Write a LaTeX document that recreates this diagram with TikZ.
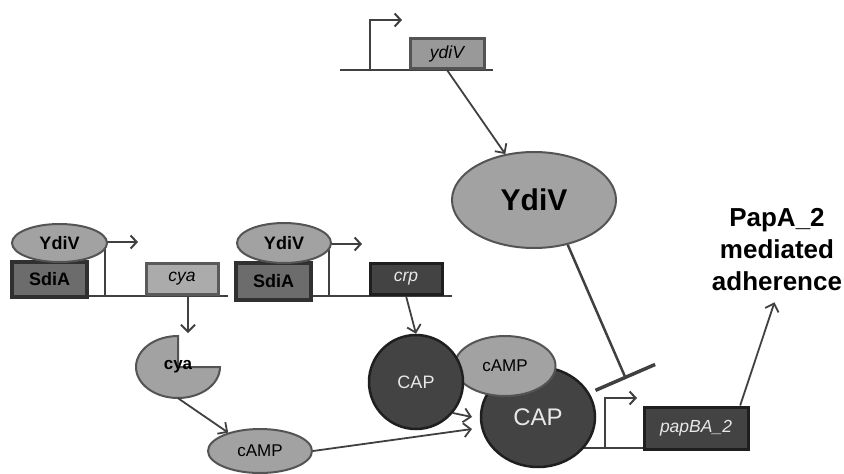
\documentclass[tikz,border=0pt]{standalone}
\usepackage{fontspec}
\setmainfont{Liberation Sans}
\usetikzlibrary{arrows.meta,shapes.geometric}
\definecolor{wire}{HTML}{404040}
\definecolor{protfill}{HTML}{A2A2A2}
\definecolor{protedge}{HTML}{545454}
\definecolor{darkfill}{HTML}{434343}
\definecolor{darkedge}{HTML}{1F1F1F}
\definecolor{sdiafill}{HTML}{6C6C6C}
\definecolor{sdiaedge}{HTML}{303030}
\definecolor{palefill}{HTML}{ABABAB}
\definecolor{paleedge}{HTML}{5A5A5A}
\definecolor{genefill}{HTML}{999999}
\definecolor{lighttext}{HTML}{E8E8E8}
\tikzset{
  prot/.style={ellipse,draw=protedge,fill=protfill,line width=2pt,inner sep=0pt},
  capprot/.style={ellipse,draw=darkedge,fill=darkfill,line width=2.5pt,inner sep=0pt,text=lighttext},
  genebox/.style={rectangle,line width=3pt,inner sep=0pt,font=\fontsize{17.5}{21}\selectfont\itshape},
  sdia/.style={rectangle,draw=sdiaedge,fill=sdiafill,line width=4pt,inner sep=0pt,
    minimum width=75,minimum height=35,font=\fontsize{18}{21}\selectfont\bfseries},
  dna/.style={draw=wire,line width=2.5pt},
  prom/.style={draw=wire,line width=2pt,-{Straight Barb[length=6pt,width=13pt]}},
  act/.style={draw=wire,line width=1.8pt,-{Straight Barb[length=7pt,width=14pt]}},
  inh/.style={draw=wire,line width=2.5pt,-{Bar[width=65pt,line width=3.5pt]}},
}
\begin{document}
\begin{tikzpicture}[x=1pt,y=-1pt]
  \useasboundingbox (0,0) rectangle (844,474);
  \coordinate (ydivL) at (340,70);
  \coordinate (ydivR) at (493,70);
  \coordinate (ydivP) at (370,70);
  \coordinate (ydivT) at (402,20);
  \draw[dna] (ydivL) -- (ydivR);
  \draw[prom] (ydivP) |- (ydivT);
  \node[genebox,draw=protedge,fill=genefill,minimum width=74,minimum height=30,anchor=south]
    (ydivgene) at (447,70) {ydiV};
  \node[prot,minimum width=164,minimum height=96,font=\fontsize{30}{36}\selectfont\bfseries]
    (ydivprot) at (534,200) {YdiV};
  \draw[act] (ydivgene.south) -- (ydivprot.122);

  \coordinate (cyaL) at (40,296);
  \coordinate (cyaR) at (228,296);
  \coordinate (cyaP) at (105,296);
  \coordinate (cyaT) at (138,242);
  \draw[dna] (cyaL) -- (cyaR);
  \draw[prom] (cyaP) |- (cyaT);
  \node[sdia] (sdia1) at (49.5,279.5) {SdiA};
  \node[prot,minimum width=95,minimum height=38,font=\fontsize{18}{21}\selectfont\bfseries]
    (ydiv1) at (59.5,243) {YdiV};
  \node[genebox,draw=paleedge,fill=palefill,minimum width=72,minimum height=31,anchor=south]
    (cyagene) at (182,296) {cya};
  \filldraw[draw=protedge,fill=protfill,line width=2pt]
    (178,367) -- (178,336) arc[start angle=-90,end angle=-360,x radius=42,y radius=31] -- cycle;
  \node[ellipse,minimum width=84,minimum height=62,inner sep=0pt,font=\fontsize{17}{20}\selectfont\bfseries]
    (cyaprot) at (178,367) {cya};
  \coordinate (cyaout) at (188,296);
  \coordinate (cyain) at (188,333);
  \draw[act] (cyaout) -- (cyain);
  \node[prot,minimum width=104,minimum height=44,font=\fontsize{17}{20}\selectfont]
    (camp1) at (260,451) {cAMP};
  \draw[act] (cyaprot.south) -- (camp1.150);

  \coordinate (crpL) at (236,296);
  \coordinate (crpR) at (452,296);
  \coordinate (crpP) at (329,296);
  \coordinate (crpT) at (362,244);
  \draw[dna] (crpL) -- (crpR);
  \draw[prom] (crpP) |- (crpT);
  \node[sdia,minimum height=37] (sdia2) at (273.5,281.5) {SdiA};
  \node[prot,minimum width=94,minimum height=40,font=\fontsize{18}{21}\selectfont\bfseries]
    (ydiv2) at (284,243) {YdiV};
  \node[genebox,draw=darkedge,fill=darkfill,text=lighttext,minimum width=72,minimum height=31,anchor=south]
    (crpgene) at (406,296) {crp};

  \coordinate (papL) at (560,448);
  \coordinate (papR) at (700,448);
  \coordinate (papP) at (605,448);
  \coordinate (papT) at (637,398);
  \draw[dna] (papL) -- (papR);
  \draw[prom] (papP) |- (papT);
  \node[genebox,draw=darkedge,fill=darkfill,text=lighttext,minimum width=104,minimum height=42]
    (papgene) at (696,428) {papBA\_2};

  \node[capprot,minimum width=114,minimum height=100,font=\fontsize{24}{28}\selectfont]
    (capbound) at (538,417) {CAP};
  \node[prot,minimum width=101,minimum height=60,font=\fontsize{17}{20}\selectfont]
    (camp2) at (505,366) {cAMP};
  \node[capprot,circle,minimum size=94,font=\fontsize{18}{21}\selectfont]
    (capfree) at (416,382) {CAP};
  \draw[act] (crpgene.south) -- (capfree.north);

  \coordinate (capin) at (472,417);
  \coordinate (campin) at (472,429);
  \draw[act] (capfree.-40) -- (capin);
  \draw[act] (camp1.east) -- (campin);

  \coordinate (inhend) at (626,379);
  \draw[inh] (ydivprot.-53) -- (inhend);

  \node[font=\fontsize{26}{32}\selectfont\bfseries,align=center]
    (adhere) at (777,250) {PapA\_2\\mediated\\adherence};
  \draw[act,shorten >=8pt] (papgene.27) -- (adhere.south);
\end{tikzpicture}
\end{document}
